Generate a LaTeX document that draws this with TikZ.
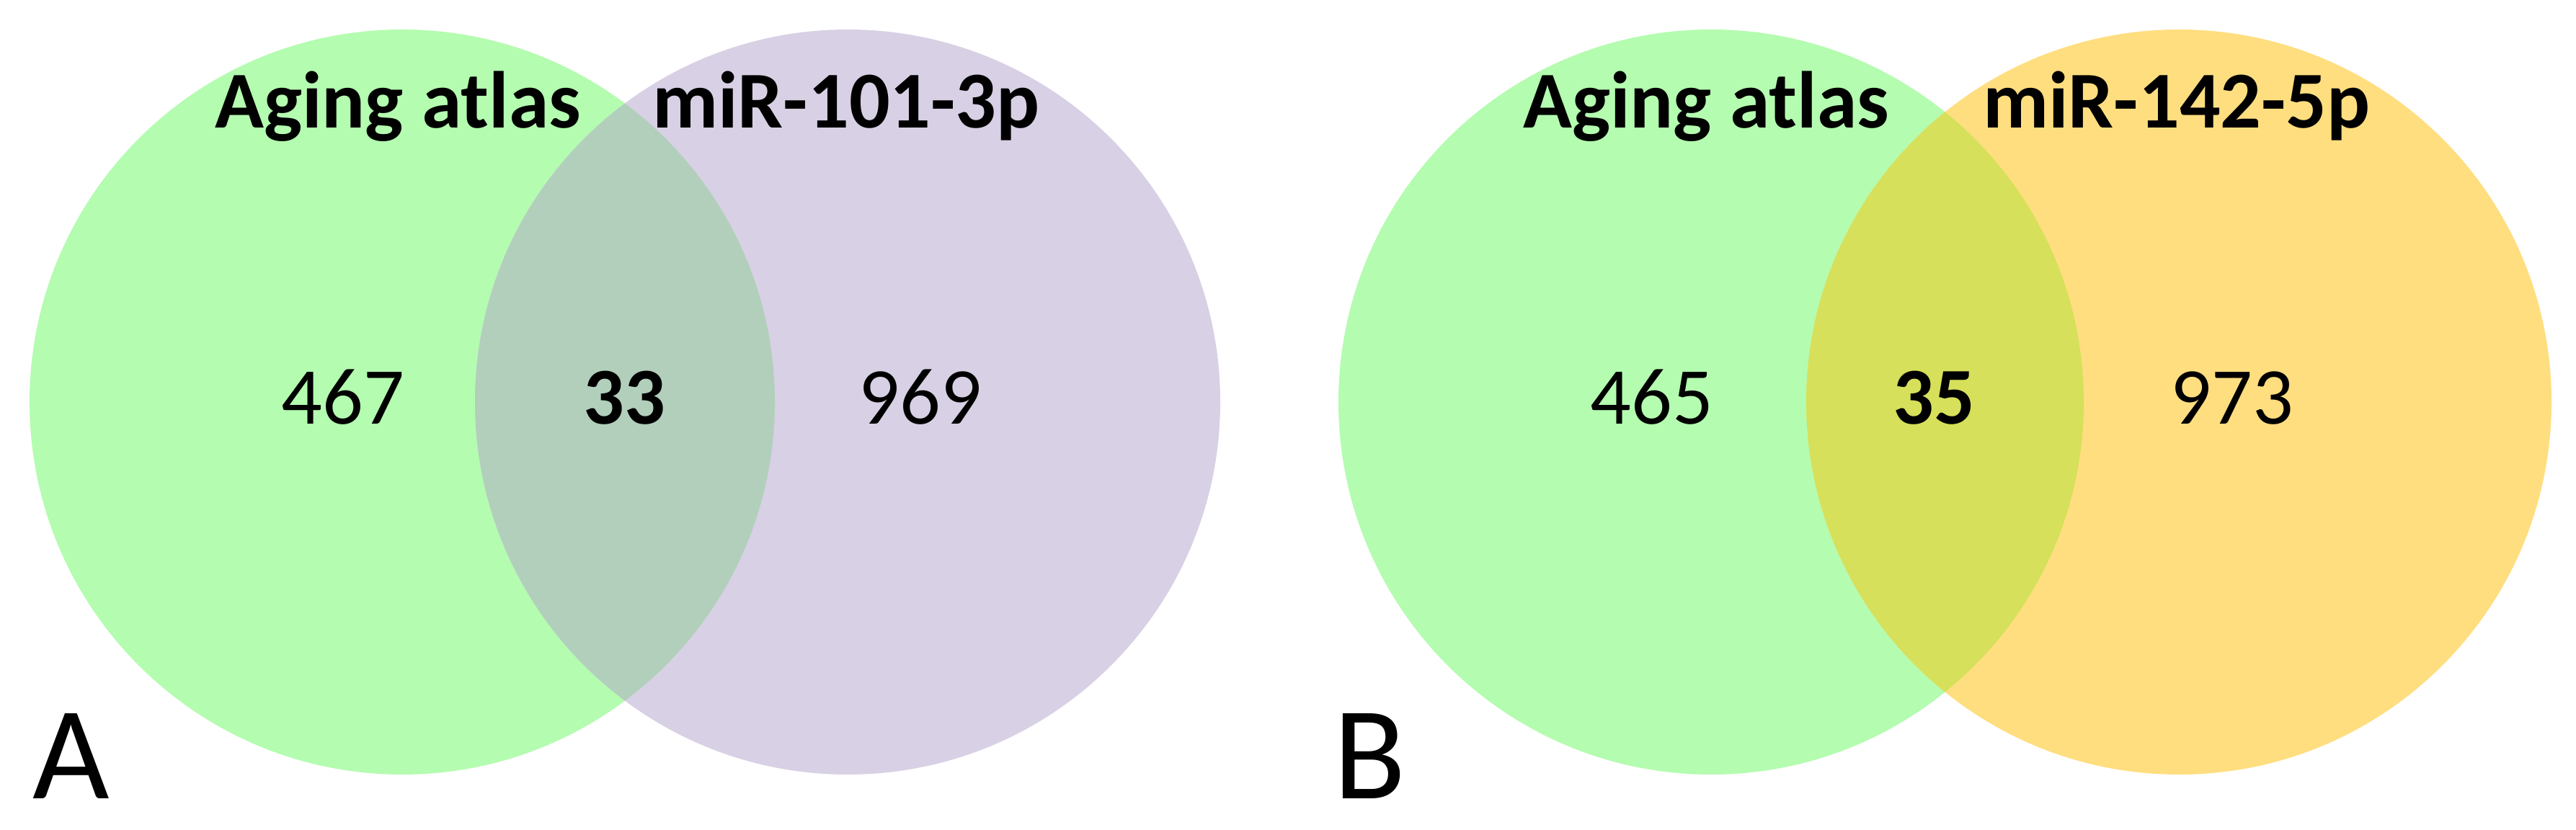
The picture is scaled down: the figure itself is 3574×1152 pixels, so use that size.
\documentclass[tikz,border=0pt]{standalone}
\usepackage{fontspec}
\setmainfont{Carlito}
\definecolor{agegreen}{RGB}{180,252,176}
\definecolor{mirpurple}{RGB}{216,208,228}
\definecolor{ovlA}{RGB}{178,207,188}
\definecolor{mirorange}{RGB}{255,222,128}
\definecolor{ovlB}{RGB}{214,224,90}
\tikzset{
  setlabel/.style={anchor=base, inner sep=0pt, font=\fontsize{28pt}{31pt}\selectfont\bfseries},
  count/.style={anchor=base, inner sep=0pt, font=\fontsize{28pt}{31pt}\selectfont},
  countbold/.style={anchor=base, inner sep=0pt, font=\fontsize{28pt}{31pt}\selectfont\bfseries},
  panel/.style={anchor=base west, inner sep=0pt, font=\fontsize{46pt}{50pt}\selectfont}
}
\begin{document}
\begin{tikzpicture}[x=0.25pt,y=-0.25pt]
\useasboundingbox (0,0) rectangle (3574,1152);
\fill[white] (0,0) rectangle (3574,1152);
% Panel A
\fill[agegreen] (558,558) circle[radius=129.25pt];
\fill[mirpurple] (1176,558) circle[radius=129.25pt];
\begin{scope}
  \clip (558,558) circle[radius=129.25pt];
  \fill[ovlA] (1176,558) circle[radius=129.25pt];
\end{scope}
% Panel B
\fill[agegreen] (2374,558) circle[radius=129.25pt];
\fill[mirorange] (3023,558) circle[radius=129.25pt];
\begin{scope}
  \clip (2374,558) circle[radius=129.25pt];
  \fill[ovlB] (3023,558) circle[radius=129.25pt];
\end{scope}
% Labels A
\node[setlabel] (labAage) at (552,178) {Aging atlas};
\node[setlabel] (labAmir) at (1174,178) {miR-101-3p};
\node[count] (nA1) at (476,589) {467};
\node[countbold] (nA2) at (866,589) {33};
\node[count] (nA3) at (1277,589) {969};
\node[panel] (pA) at (45,1108) {A};
% Labels B
\node[setlabel] (labBage) at (2367,178) {Aging atlas};
\node[setlabel] (labBmir) at (3020,178) {miR-142-5p};
\node[count] (nB1) at (2292,589) {465};
\node[countbold] (nB2) at (2683,589) {35};
\node[count] (nB3) at (3097,589) {973};
\node[panel] (pB) at (1850,1108) {B};
\end{tikzpicture}
\end{document}
